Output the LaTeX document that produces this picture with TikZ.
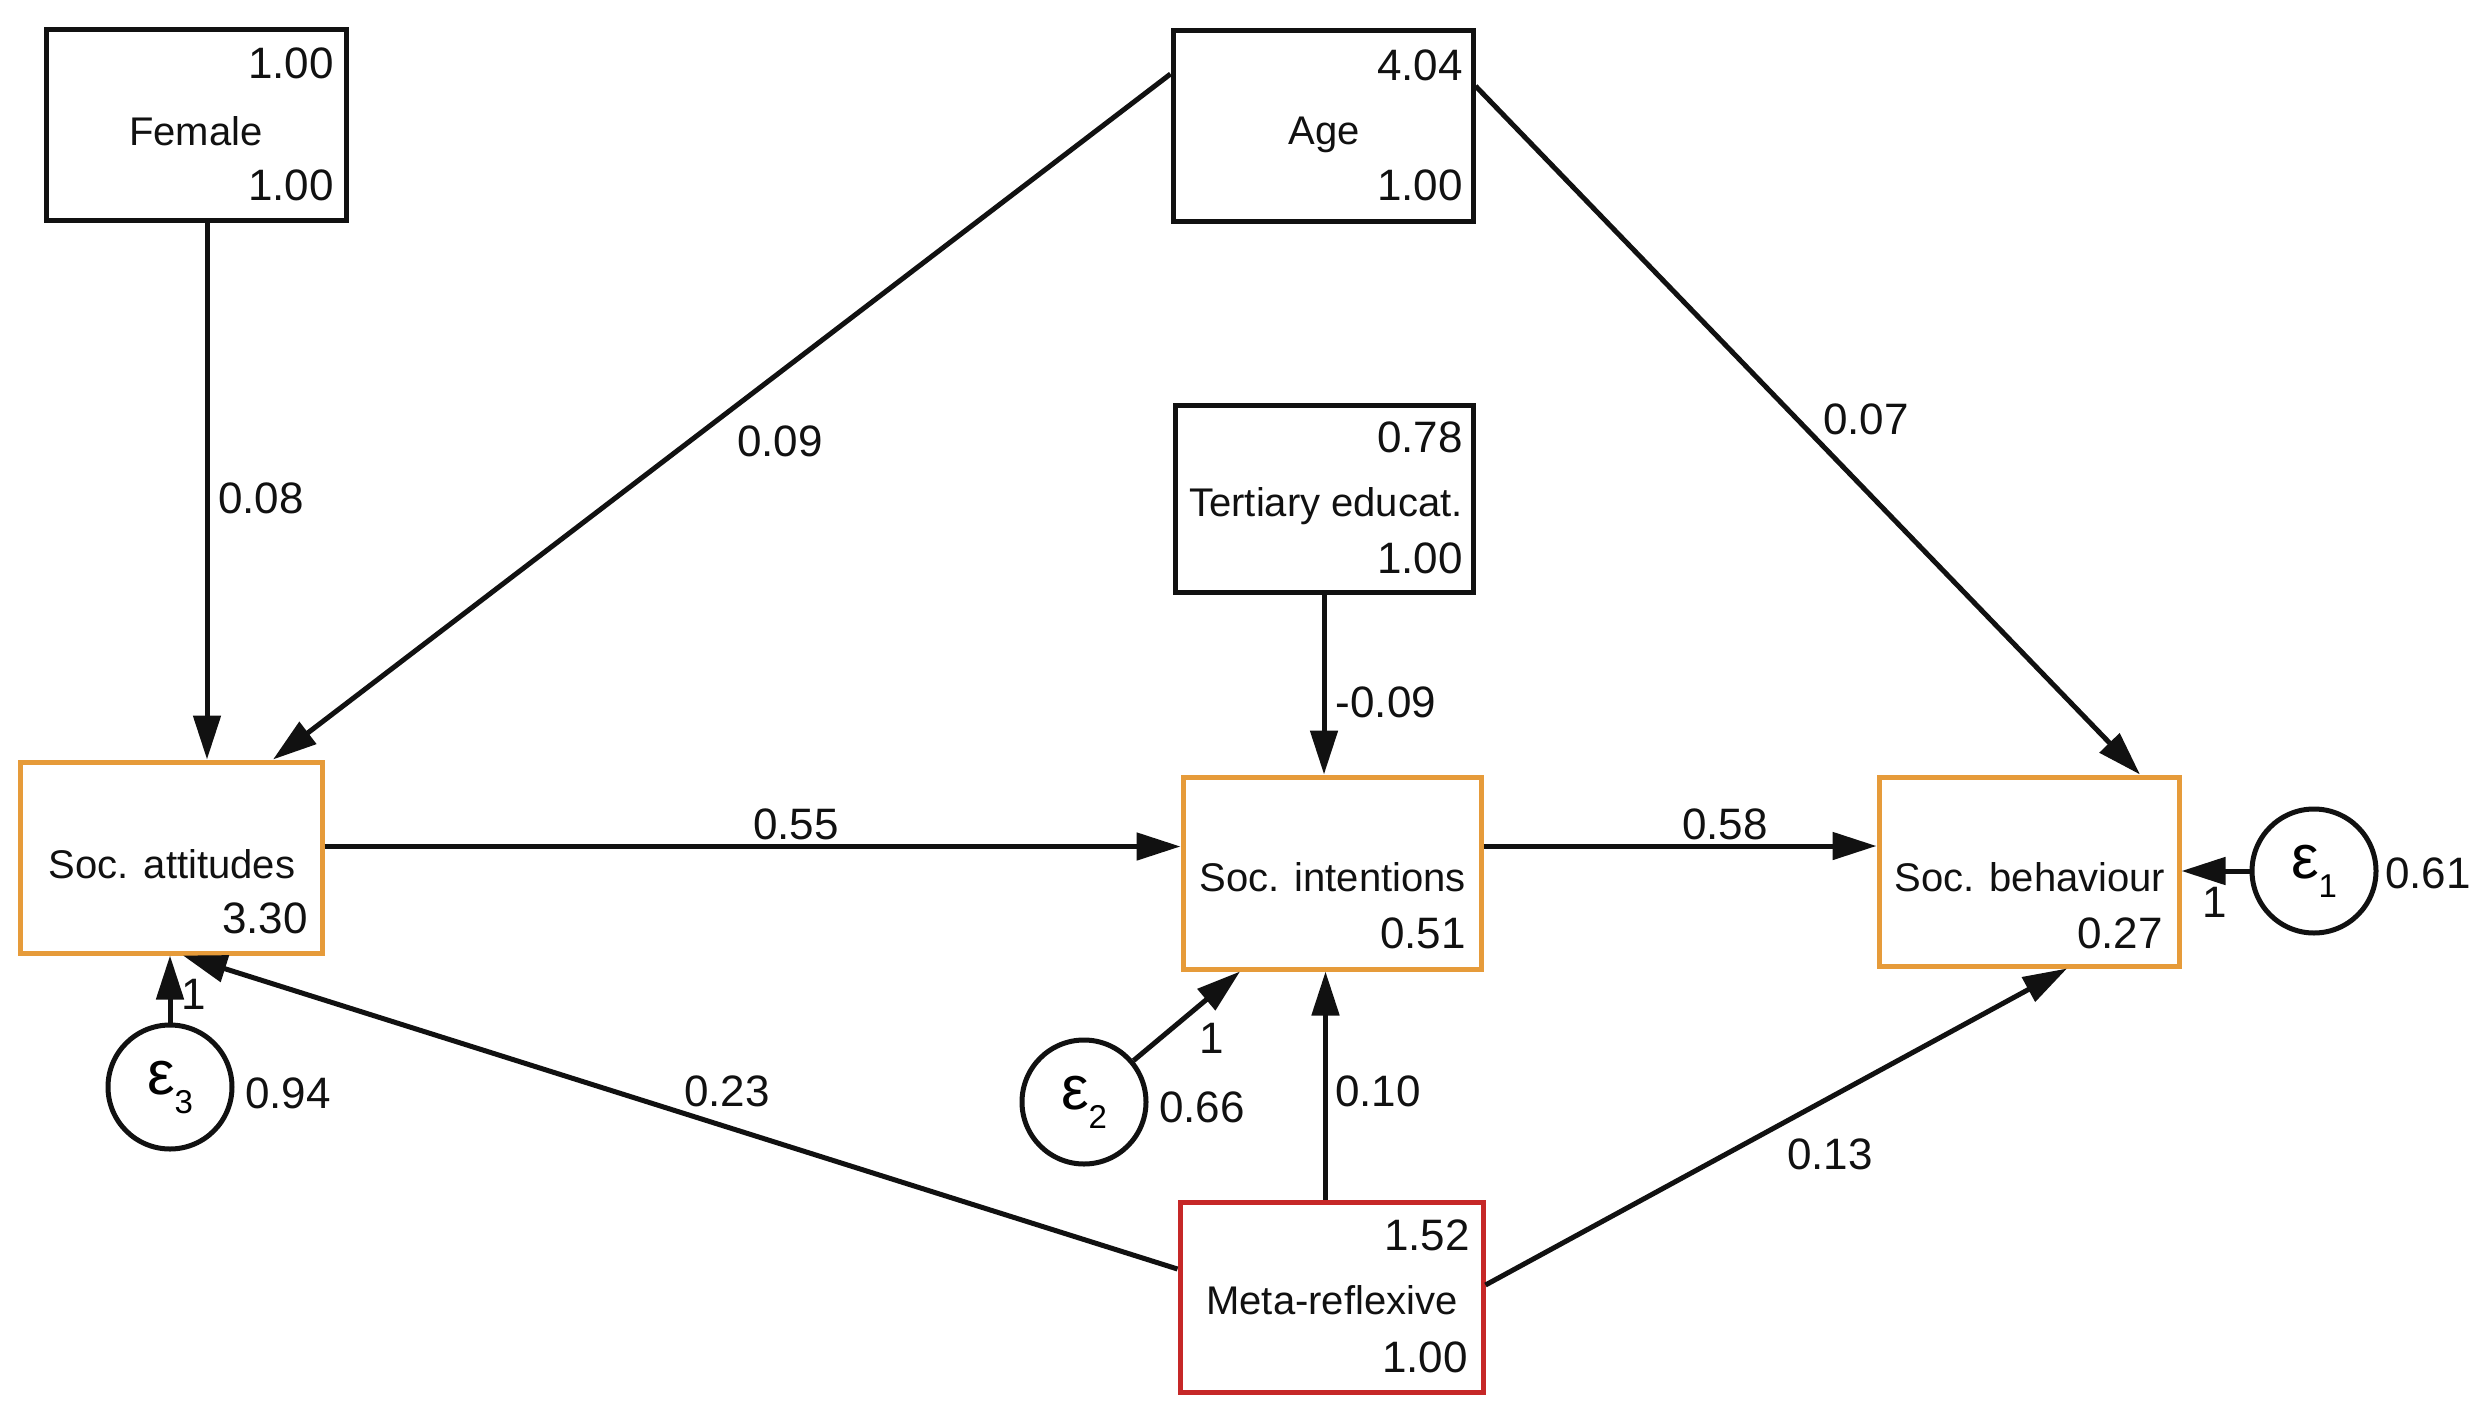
\documentclass[tikz,border=0pt]{standalone}
\usepackage{fontspec}
\setmainfont{Liberation Sans}
\usetikzlibrary{arrows.meta,calc}
\definecolor{boxorange}{HTML}{E69B3A}
\definecolor{boxred}{HTML}{C62828}
\definecolor{ink}{HTML}{111111}
\begin{document}
\begin{tikzpicture}[x=1pt,y=-1pt,
  box/.style={draw=ink,line width=5pt,rectangle,inner sep=0pt,minimum width=300pt,minimum height=191pt},
  obox/.style={box,draw=boxorange},
  rbox/.style={box,draw=boxred},
  errc/.style={draw=ink,line width=5pt,circle,inner sep=0pt,minimum size=124pt},
  nm/.style={inner sep=0pt,text=ink,font=\fontsize{40}{48}\selectfont,text height=29pt,text depth=0pt},
  num/.style={inner sep=0pt,text=ink,font=\fontsize{44}{52}\selectfont,text height=31.5pt,text depth=0pt},
  arr/.style={draw=ink,line width=5pt,-{Triangle[length=44pt,width=27pt]}},
  eps/.style={errc,font=\fontsize{62}{70}\selectfont}
]
\useasboundingbox[fill=white] (0,0) rectangle (2482,1413);

% boxes
\node[box] (female) at (196,125) {};
\node[box] (age) at (1323,126) {};
\node[box,minimum width=298pt,minimum height=187pt] (tert) at (1324,498.5) {};
\node[obox,minimum width=302pt] (sa) at (171,857.5) {};
\node[obox,minimum width=298pt,minimum height=192pt] (si) at (1332,873) {};
\node[obox,minimum height=189pt] (sb) at (2029,871.5) {};
\node[rbox,minimum width=303pt,minimum height=190pt] (meta) at (1331.5,1297) {};

% error terms
\node[eps] (e3) at (170,1087) {\raisebox{-5pt}{ε}\raisebox{-24pt}{\fontsize{33}{36}\selectfont 3}};
\node[eps] (e2) at (1084,1102) {\raisebox{-5pt}{ε}\raisebox{-24pt}{\fontsize{33}{36}\selectfont 2}};
\node[eps] (e1) at (2314,871) {\raisebox{-5pt}{ε}\raisebox{-24pt}{\fontsize{33}{36}\selectfont 1}};

% box texts
\node[num,anchor=east] (femt) at (334,63) {1.00};
\node[nm] (femn) at (196,131) {Female};
\node[num,anchor=east] (femb) at (334,185) {1.00};

\node[num,anchor=east] (aget) at (1463,65) {4.04};
\node[nm] (agen) at (1324,130) {Age};
\node[num,anchor=east] (ageb) at (1463,185) {1.00};

\node[num,anchor=east] (tertt) at (1463,437) {0.78};
\node[nm] (tertn) at (1326,502) {Tertiary educat.};
\node[num,anchor=east] (tertb) at (1463,558) {1.00};

\node[nm] (san) at (172,864) {Soc. attitudes};
\node[num,anchor=east] (sab) at (308,918) {3.30};

\node[nm,anchor=east] (sin) at (1466,877) {Soc. intentions};
\node[num,anchor=east] (sib) at (1466,933) {0.51};

\node[nm] (sbn) at (2030,877) {Soc. behaviour};
\node[num,anchor=east] (sbb) at (2163,933) {0.27};

\node[num,anchor=east] (metat) at (1470,1235) {1.52};
\node[nm] (metan) at (1332,1300) {Meta-reflexive};
\node[num,anchor=east] (metab) at (1468,1357) {1.00};

% connectors
\draw[arr] ([xshift=11pt]female.south) -- ([xshift=11pt]female.south |- sa.north);
\draw[arr] ([yshift=52pt]age.west) -- ([xshift=102pt]sa.north);
\draw[arr] ([yshift=40pt]age.east) -- ([xshift=111pt]sb.north);
\draw[arr] (tert.south) -- (tert.south |- si.north);
\draw[arr] ([yshift=11pt]sa.east) -- ([yshift=11pt]sa.east -| si.west);
\draw[arr] ([yshift=27pt]si.east) -- ([yshift=27pt]si.east -| sb.west);
\draw[arr] ([xshift=-6pt]meta.north) -- ([xshift=-6pt]meta.north |- si.south);
\draw[arr] ([yshift=28pt]meta.west) -- ([xshift=12pt]sa.south);
\draw[arr] ([yshift=12pt]meta.east) -- ([xshift=38pt]sb.south);
\draw[arr] (e3) -- (e3 |- sa.south);
\draw[arr] (e2) -- ([xshift=-92pt]si.south);
\draw[arr] (e1) -- (e1 -| sb.east);

% path labels
\node[num] (l08) at (261,498) {0.08};
\node[num] (l09) at (780,441) {0.09};
\node[num] (l07) at (1866,419) {0.07};
\node[num] (lm09) at (1386,702) {-0.09};
\node[num] (l55) at (796,824) {0.55};
\node[num] (l58) at (1725,824) {0.58};
\node[num] (l23) at (727,1091) {0.23};
\node[num] (l10) at (1378,1091) {0.10};
\node[num] (l13) at (1830,1154) {0.13};
\node[num] (one3) at (194,994) {1};
\node[num] (one2) at (1212,1038) {1};
\node[num] (one1) at (2215,902) {1};
\node[num] (v94) at (288,1093) {0.94};
\node[num] (v66) at (1202,1107) {0.66};
\node[num] (v61) at (2428,873) {0.61};
\end{tikzpicture}
\end{document}
